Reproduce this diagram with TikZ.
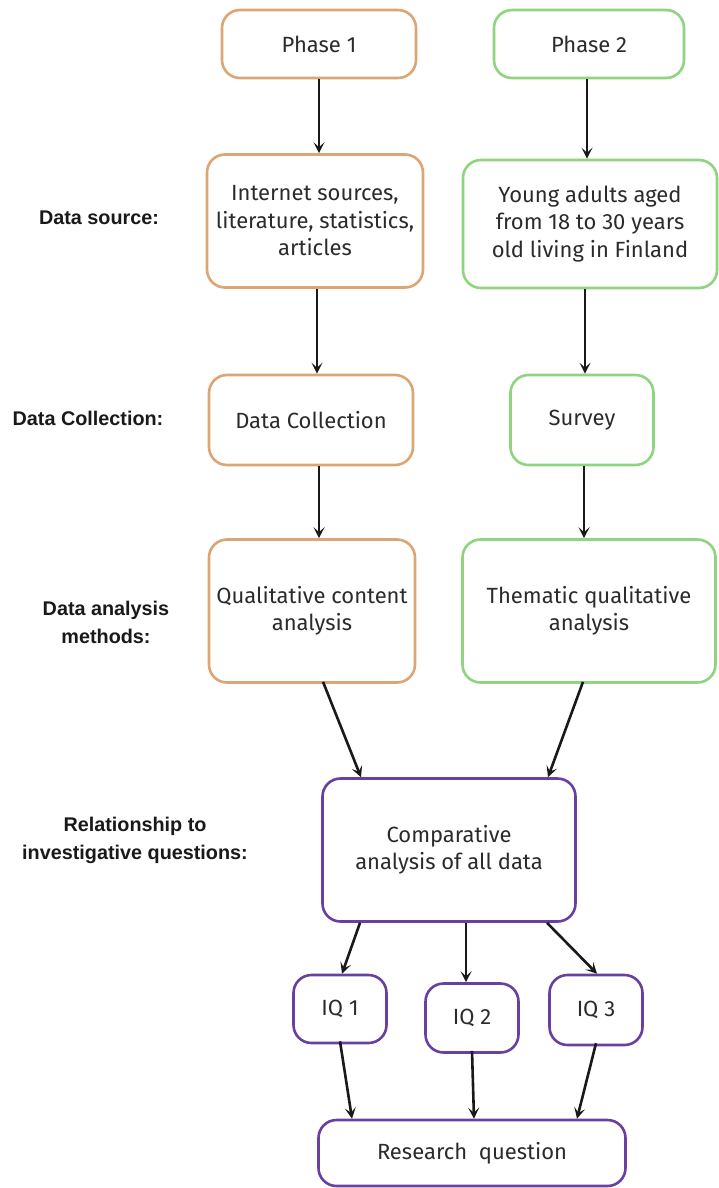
\documentclass[tikz,border=0pt]{standalone}
\usepackage{fontspec}
\setmainfont{Fira Sans}
\newfontfamily\labelfont{Liberation Sans}
\usetikzlibrary{arrows.meta}
\definecolor{ph1}{HTML}{DDA574}
\definecolor{ph2}{HTML}{8FD47F}
\definecolor{ph3}{HTML}{6840A2}
\definecolor{txtgray}{HTML}{2B2B2B}
\begin{document}
\begin{tikzpicture}[x=1pt,y=-1pt,
  box/.style={draw, line width=2.6pt, rounded corners=18pt, align=center,
    inner sep=0pt, text=txtgray, font=\fontsize{22}{27.5}\selectfont},
  orangebox/.style={box, draw=ph1},
  greenbox/.style={box, draw=ph2},
  purplebox/.style={box, draw=ph3},
  sidelabel/.style={align=center, font=\labelfont\bfseries\fontsize{19.8}{28}\selectfont, text=black!90},
  arr/.style={-{Stealth[length=11pt,width=11pt,inset=5pt]}, line width=2.6pt, black!90}]
\useasboundingbox[fill=white] (0,0) rectangle (719,1188);

% phase 1 column
\node[orangebox, minimum width=194pt, minimum height=68pt] (p1) at (319,44) {Phase 1};
\node[orangebox, minimum width=216pt, minimum height=133pt] (src1) at (315,221) {Internet sources,\\literature, statistics,\\articles};
\node[orangebox, minimum width=204pt, minimum height=90pt] (col1) at (311,420) {Data Collection};
\node[orangebox, minimum width=206pt, minimum height=143pt] (an1) at (312,611) {Qualitative content\\analysis};

% phase 2 column
\node[greenbox, minimum width=190pt, minimum height=68pt] (p2) at (589,44) {Phase 2};
\node[greenbox, minimum width=254pt, minimum height=128pt] (src2) at (590,224) {Young adults aged\\from 18 to 30 years\\old living in Finland};
\node[greenbox, minimum width=143pt, minimum height=90pt] (col2) at (582,420) {Survey};
\node[greenbox, minimum width=253pt, minimum height=143pt] (an2) at (589,611) {Thematic qualitative\\analysis};

% purple part
\node[purplebox, minimum width=253pt, minimum height=143pt] (cmp) at (449,850) {Comparative\\analysis of all data};
\node[purplebox, minimum width=93pt, minimum height=68pt] (iq1) at (340,1009) {IQ 1};
\node[purplebox, minimum width=93pt, minimum height=69pt] (iq2) at (472,1018) {IQ 2};
\node[purplebox, minimum width=93pt, minimum height=70pt] (iq3) at (596,1010) {IQ 3};
\node[purplebox, minimum width=307pt, minimum height=66pt] (rq) at (472,1153) {Research~ question};

% side labels
\node[sidelabel] (l1) at (99,218) {Data source:};
\node[sidelabel] (l2) at (88,418) {Data Collection:};
\node[sidelabel] (l3) at (106,622) {Data analysis\\methods:};
\node[sidelabel] (l4) at (135,840) {Relationship to\\investigative questions:};

% connectors
\draw[arr] (p1.south) -- (src1.north -| p1.south);
\draw[arr] ([xshift=-2pt]p2.south) -- ([xshift=-2pt]src2.north -| p2.south);
\draw[arr] ([xshift=2pt]src1.south) -- ([xshift=2pt]col1.north -| src1.south);
\draw[arr] ([xshift=-5pt]src2.south) -- ([xshift=-5pt]col2.north -| src2.south);
\draw[arr] ([xshift=8pt]col1.south) -- ([xshift=8pt]an1.north -| col1.south);
\draw[arr] ([xshift=2pt]col2.south) -- ([xshift=2pt]an2.north -| col2.south);

\coordinate (a1s) at (an1.south -| 323,0);
\coordinate (a2s) at (an2.south -| 583,0);
\coordinate (c1n) at (cmp.north -| 361,0);
\coordinate (c2n) at (cmp.north -| 548,0);
\draw[arr] ([yshift=2pt]a1s) -- (c1n);
\draw[arr] ([yshift=2pt]a2s) -- (c2n);

\coordinate (cs1) at (cmp.south -| 360,0);
\coordinate (cs2) at (cmp.south -| 466,0);
\coordinate (cs3) at (cmp.south -| 547,0);
\draw[arr] (cs1) -- (iq1.north -| 342,0);
\draw[arr] (cs2) -- (iq2.north -| 466,0);
\draw[arr] (cs3) -- (iq3.north -| 597,0);

\draw[arr] ([yshift=3pt]iq1.south) -- (rq.north -| 352,0);
\draw[arr] ([yshift=3pt]iq2.south) -- (rq.north -| 474,0);
\draw[arr] ([yshift=3pt]iq3.south) -- (rq.north -| 577,0);
\end{tikzpicture}
\end{document}
